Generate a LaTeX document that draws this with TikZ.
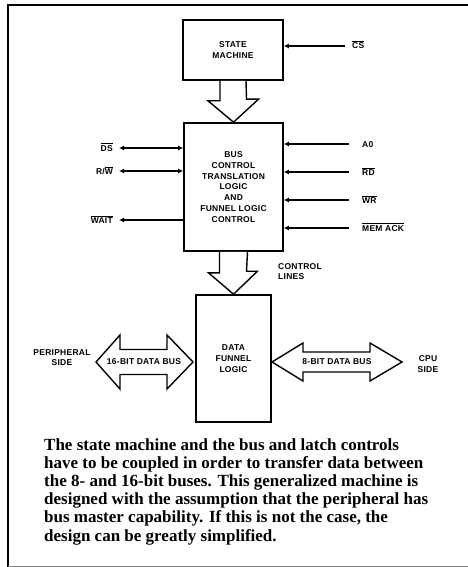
\documentclass[tikz,border=0pt]{standalone}
\usepackage{fontspec}
\setmainfont{Liberation Serif}
\setsansfont[LetterSpace=3]{Liberation Sans}
\usetikzlibrary{arrows.meta, positioning}
\newcommand{\lblfont}{\sffamily\bfseries\fontsize{8.5}{10.7}\selectfont}
\newcommand{\notefont}{\rmfamily\bfseries\fontsize{17}{18.2}\selectfont}
\newcommand{\ovl}[1]{$\overline{\mbox{#1}}$}

\begin{document}
\begin{tikzpicture}[x=1pt, y=-1pt,
  box/.style={draw, line width=1.6pt, inner sep=0pt, align=center, font=\lblfont},
  lbl/.style={inner sep=0pt, align=center, font=\lblfont},
  sigl/.style={lbl, text height=6pt, text depth=0pt},
  sig/.style={line width=1.2pt, -{Latex[length=5pt,width=5pt]}},
  bisig/.style={line width=1.2pt, {Latex[length=5pt,width=5pt]}-{Latex[length=5pt,width=5pt]}},
  hollow/.style={draw, line width=1.4pt, line join=miter, fill=white}]
\useasboundingbox (0,0) rectangle (468,567);
% frame
\draw[line width=1.6pt] (468,5) -- (8,5) -- (8,567);
\draw[line width=0.6pt, gray] (8,566) -- (468,566);

% blocks
\node[box, minimum width=100pt, minimum height=60pt] (state) at (233,50) {STATE\\MACHINE};
\node[box, minimum width=99pt, minimum height=128pt] (bus) at (233.5,187) {BUS\\CONTROL\\TRANSLATION\\LOGIC\\AND\\FUNNEL LOGIC\\CONTROL};
\node[box, minimum width=75pt, minimum height=127pt] (funnel) at (233.5,358.5) {DATA\\FUNNEL\\LOGIC};

% wide arrows between blocks
\draw[hollow] ([xshift=-13pt]state.south) -- ++(0,20) -- ++(-12,0) -- (bus.north) -- ++(25,-23) -- ++(-12,0) -- ([xshift=13pt]state.south);
\draw[hollow] ([xshift=-14pt]bus.south) -- ++(0,21) -- ++(-11,0) -- (funnel.north) -- ++(24,-23) -- ++(-11,0) -- ([xshift=14pt]bus.south);
\node[lbl, anchor=west, align=left] (ctl) at (278,271.5) {CONTROL\\LINES};

% signals
\node[sigl, anchor=west] (cs) at (352,46) {\ovl{CS}};
\draw[sig] ([xshift=-7pt]cs.west) -- (cs -| state.east);
\foreach \y/\nm/\txt in {144/a0/A0, 172/rd/\ovl{RD}, 200/wr/\ovl{WR}, 228/mack/\ovl{MEM ACK}} {
  \node[sigl, anchor=west] (\nm) at (362,\y) {\txt};
  \draw[sig] ([xshift=-13pt]\nm.west) -- (\nm -| bus.east);
}
\foreach \y/\nm/\txt/\tip in {148/ds/\ovl{DS}/bisig, 171/rw/{R/\ovl{W}}/bisig} {
  \node[sigl, anchor=east] (\nm) at (113,\y) {\txt};
  \draw[\tip] ([xshift=6pt]\nm.east) -- (\nm -| bus.west);
}
\node[sigl, anchor=east] (wait) at (113,220) {\ovl{WAIT}};
\draw[sig] (wait -| bus.west) -- ([xshift=6pt]wait.east);

% data buses
\node[lbl] (periph) at (62,357.5) {PERIPHERAL\\SIDE};
\node[lbl] (cpu) at (428,364) {CPU\\SIDE};
\coordinate (w16) at (96,362);
\coordinate (e16) at (193,362);
\coordinate (w8) at (272,362);
\coordinate (e8) at (402,362);
\draw[hollow] (w16) -- ++(24,-27) -- ++(0,14.5) -- ++(47,0) -- ++(0,-14.5) -- (e16) -- ++(-26,27) -- ++(0,-14.5) -- ++(-47,0) -- ++(0,14.5) -- cycle;
\draw[hollow] (w8) -- ++(31,-19) -- ++(0,9) -- ++(67,0) -- ++(0,-9) -- (e8) -- ++(-32,19) -- ++(0,-9) -- ++(-67,0) -- ++(0,9) -- cycle;
\node[lbl] (b16) at (144,362) {16-BIT DATA BUS};
\node[lbl] (b8) at (337,362) {8-BIT DATA BUS};

% caption
\node[anchor=north west, inner sep=0pt, align=left, font=\notefont] (note) at (44,438) {The state machine and the bus and latch controls\\have to be coupled in order to transfer data between\\the 8- and 16-bit buses. This generalized machine is\\designed with the assumption that the peripheral has\\bus master capability. If this is not the case, the\\design can be greatly simplified.};
\end{tikzpicture}
\end{document}
